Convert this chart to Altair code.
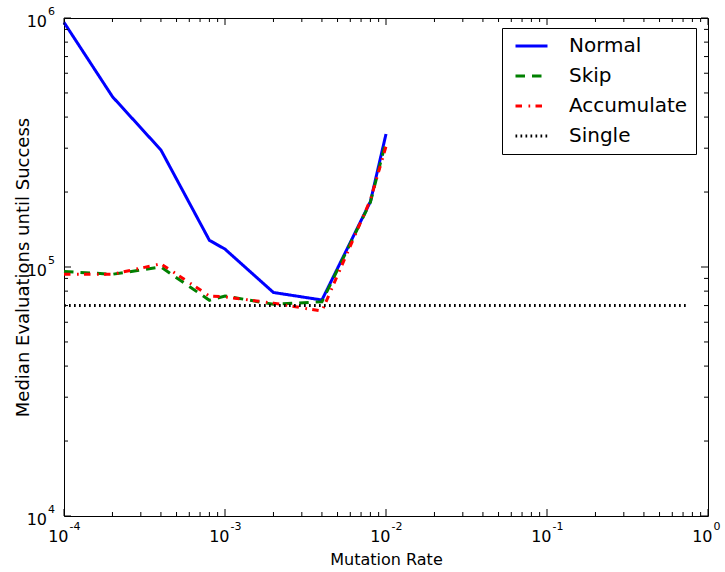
import altair as alt
import pandas as pd

# Median evaluations until success versus mutation rate
rates = [1e-4, 2e-4, 4e-4, 8e-4, 1e-3, 2e-3, 4e-3, 8e-3, 1e-2]
normal = [9.6e5, 4.83e5, 2.95e5, 1.28e5, 1.18e5, 7.9e4, 7.37e4, 1.83e5, 3.42e5]
skip = [9.6e4, 9.35e4, 1.0e5, 7.35e4, 7.65e4, 7.08e4, 7.25e4, 1.82e5, 3.2e5]
accumulate = [9.35e4, 9.35e4, 1.03e5, 7.65e4, 7.58e4, 7.16e4, 6.65e4, 1.86e5, 3.05e5]
single_rates = [1e-4, 0.75]
single = [7.0e4, 7.0e4]

series_names = ["Normal", "Skip", "Accumulate", "Single"]
series_colors = ["#0000ff", "#008000", "#ff0000", "#000000"]
series_dashes = [[1, 0], [9.5, 7], [6.5, 6.5, 1.7, 5.3], [1.7, 3.3]]

# tick positions and labels
x_major = [1e-4, 1e-3, 1e-2, 1e-1, 1.0]
x_minor = [m * 10.0 ** e for e in range(-4, 0) for m in range(2, 10)]
x_exps = ["-4", "-3", "-2", "-1", "0"]
y_major = [1e4, 1e5, 1e6]
y_minor = [m * 10.0 ** e for e in range(4, 6) for m in range(2, 10)]
y_exps = ["4", "5", "6"]

W, H = 644, 498
FONT = "DejaVu Sans"

rows = []
for name, xs, ys in [("Normal", rates, normal), ("Skip", rates, skip),
                     ("Accumulate", rates, accumulate), ("Single", single_rates, single)]:
    for xv, yv in zip(xs, ys):
        rows.append({"series": name, "x": xv, "y": yv})
lines_df = pd.DataFrame(rows)

xs = alt.Scale(type="log", domain=[1e-4, 1.0], nice=False)
ys = alt.Scale(type="log", domain=[1e4, 1e6], nice=False)
x_axis = alt.Axis(title="Mutation Rate", labels=False, ticks=False, domain=False, grid=False,
                  titleFont=FONT, titleFontSize=16, titleFontWeight="normal",
                  titleColor="black", titlePadding=35)
y_axis = alt.Axis(title="Median Evaluations until Success", labels=False, ticks=False,
                  domain=False, grid=False, titleFont=FONT, titleFontSize=18,
                  titleFontWeight="normal", titleColor="black", titlePadding=32)


def X(field="x"):
    return alt.X(field, type="quantitative", scale=xs, axis=x_axis)


def Y(field="y"):
    return alt.Y(field, type="quantitative", scale=ys, axis=y_axis)


legend = alt.Legend(title=None, orient="none", legendX=438, legendY=10,
                    symbolType="stroke", symbolSize=1024, symbolStrokeWidth=3,
                    labelFont=FONT, labelFontSize=20, labelColor="black",
                    strokeColor="black", fillColor="white", padding=8,
                    rowPadding=10, labelOffset=20, symbolOffset=4, clipHeight=20)

lines = alt.Chart(lines_df).mark_line(strokeWidth=3).encode(
    x=X(), y=Y(),
    color=alt.Color("series:N", scale=alt.Scale(domain=series_names, range=series_colors),
                    legend=legend, sort=series_names),
    strokeDash=alt.StrokeDash("series:N", scale=alt.Scale(domain=series_names, range=series_dashes),
                              legend=legend, sort=series_names),
)


def x_ticks(vals, length):
    base = alt.Chart(pd.DataFrame({"x": vals})).mark_rule(color="black", strokeWidth=1)
    return [base.encode(x=X(), y=alt.value(H), y2=alt.value(H - length)),
            base.encode(x=X(), y=alt.value(0), y2=alt.value(length))]


def y_ticks(vals, length):
    base = alt.Chart(pd.DataFrame({"y": vals})).mark_rule(color="black", strokeWidth=1)
    return [base.encode(y=Y(), x=alt.value(0), x2=alt.value(length)),
            base.encode(y=Y(), x=alt.value(W), x2=alt.value(W - length))]


ticks = x_ticks(x_major, 7) + x_ticks(x_minor, 4) + y_ticks(y_major, 7) + y_ticks(y_minor, 4)

xlab_df = pd.DataFrame({"x": x_major, "base": ["10"] * len(x_major), "exp": x_exps})
ylab_df = pd.DataFrame({"y": y_major, "base": ["10"] * len(y_major), "exp": y_exps})

x_base = alt.Chart(xlab_df).mark_text(align="right", baseline="alphabetic", font=FONT,
                                      fontSize=16, dx=4.5, color="black").encode(
    x=X(), y=alt.value(H + 26), text="base:N")
x_exp = alt.Chart(xlab_df).mark_text(align="left", baseline="alphabetic", font=FONT,
                                     fontSize=11, dx=5.5, color="black").encode(
    x=X(), y=alt.value(H + 14), text="exp:N")
y_base = alt.Chart(ylab_df).mark_text(align="right", baseline="alphabetic", font=FONT,
                                      fontSize=16, dy=8.5, color="black").encode(
    y=Y(), x=alt.value(-17), text="base:N")
y_exp = alt.Chart(ylab_df).mark_text(align="left", baseline="alphabetic", font=FONT,
                                     fontSize=11, dy=-3, color="black").encode(
    y=Y(), x=alt.value(-16), text="exp:N")

chart = alt.layer(lines, *ticks, x_base, x_exp, y_base, y_exp).properties(
    width=W, height=H,
    autosize=alt.AutoSizeParams(type="none"),
    padding={"left": 64, "top": 18, "right": 17, "bottom": 56},
    background="white",
).configure_view(stroke="black", strokeWidth=1)

chart.save("out.html", embed_options={"renderer": "svg", "actions": False})
